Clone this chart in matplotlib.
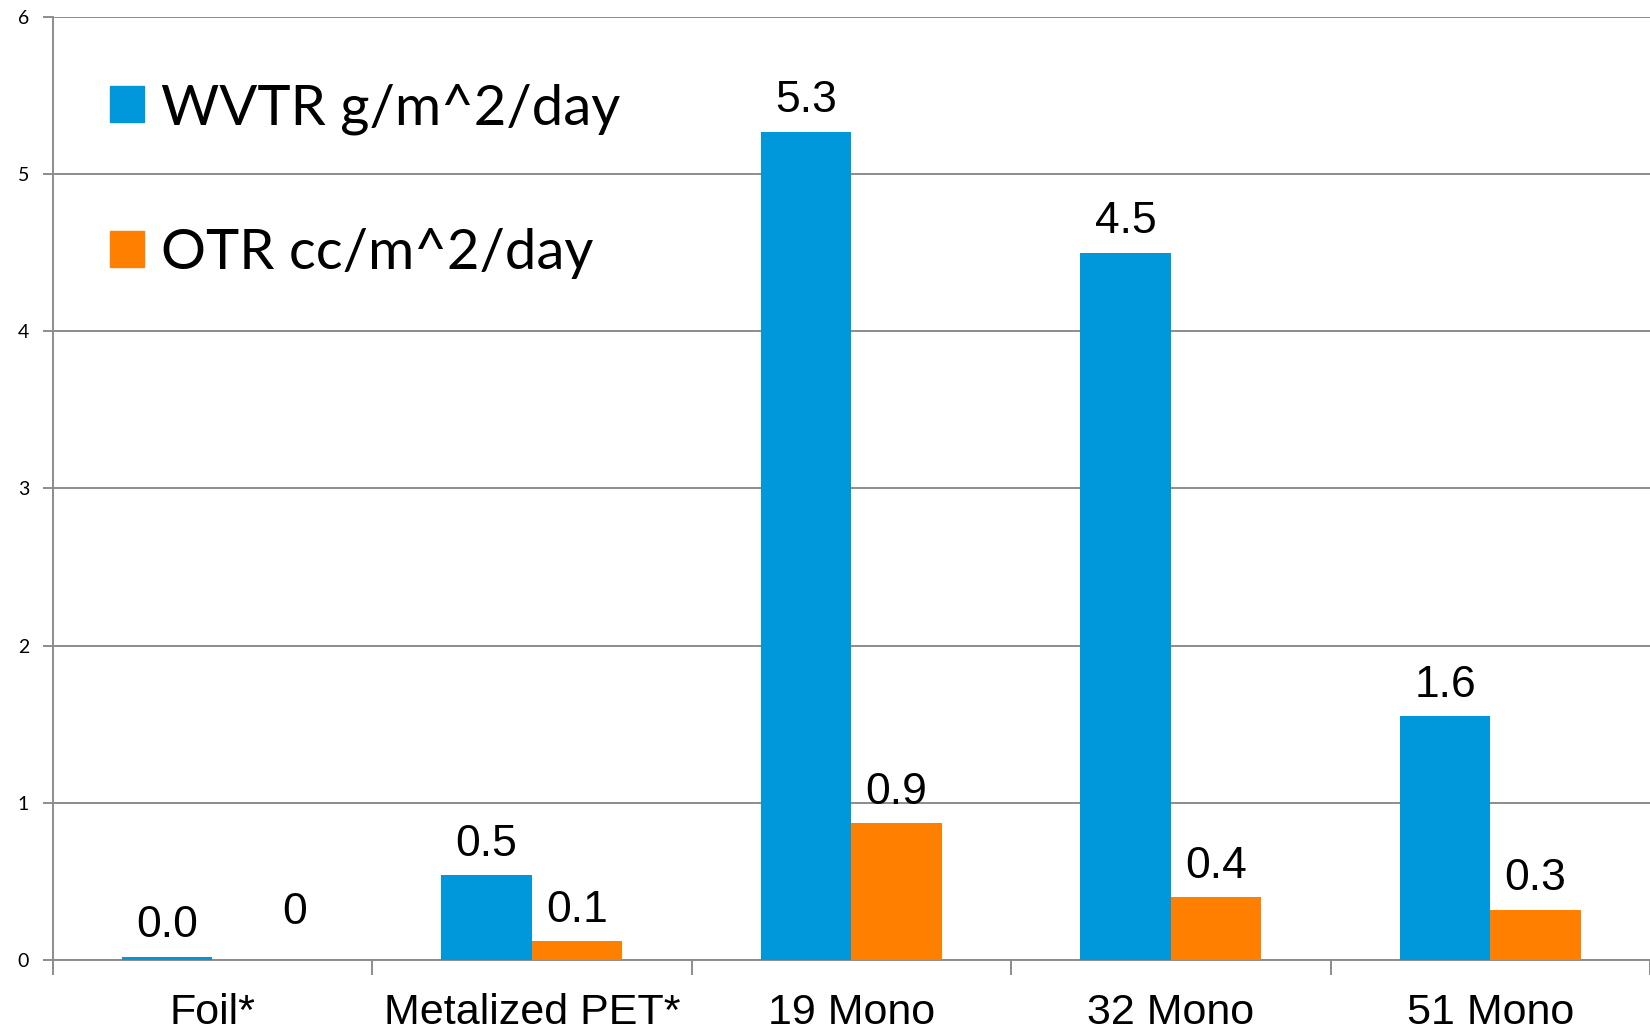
import numpy as np
import matplotlib.pyplot as plt
from matplotlib.patches import Patch

categories = ["Foil*", "Metalized PET*", "19 Mono", "32 Mono", "51 Mono"]
wvtr = [0.02, 0.54, 5.27, 4.50, 1.55]
otr = [0.0, 0.12, 0.87, 0.40, 0.32]
series_names = ["WVTR g/m^2/day", "OTR cc/m^2/day"]
y_ticks = [0, 1, 2, 3, 4, 5, 6]

blue = "#0098DA"
orange = "#FF7F00"
grid_col = "#8C8C8C"


def fmt(v):
    # excel shows an exact zero as "0"
    return "0" if v == 0 else f"{v:.1f}"


fig = plt.figure(figsize=(16.5, 10.31), dpi=100)
ax = fig.add_axes([0.0319, 0.0689, 0.9681, 0.9146])

x = np.arange(len(categories))
w = 0.283
b1 = ax.bar(x - w / 2, wvtr, w, color=blue, label=series_names[0], zorder=3)
b2 = ax.bar(x + w / 2, otr, w, color=orange, label=series_names[1], zorder=3)

for bars, vals in ((b1, wvtr), (b2, otr)):
    for rect, v in zip(bars, vals):
        # zero-height bar: excel nudges its label up and to the right
        off = (0, 14) if v != 0 else (27, 26)
        ax.annotate(fmt(v), (rect.get_x() + rect.get_width() / 2, rect.get_height()),
                    xytext=off, textcoords="offset points",
                    ha="center", va="baseline", fontsize=32,
                    family="Liberation Sans", color="black")

ax.set_xlim(-0.5, len(categories) - 0.5)
ax.set_ylim(0, 6)
ax.set_yticks(y_ticks)
ax.set_yticklabels([str(t) for t in y_ticks], family="Lato", fontsize=14)
ax.yaxis.grid(True, color=grid_col, linewidth=1.4, zorder=0)
ax.tick_params(axis="y", length=7, width=1.4, color=grid_col, pad=10)

ax.set_xticks(x)
ax.set_xticklabels(categories, family="Liberation Sans", fontsize=31)
ax.set_xticks(np.arange(-0.5, len(categories)), minor=True)
ax.tick_params(axis="x", which="major", length=0, pad=24)
ax.tick_params(axis="x", which="minor", length=11, width=1.4, color=grid_col)

for s in ("top", "right"):
    ax.spines[s].set_visible(False)
for s in ("left", "bottom"):
    ax.spines[s].set_color(grid_col)
    ax.spines[s].set_linewidth(1.4)

handles = [Patch(color=blue), Patch(color=orange)]
ax.legend(handles, series_names, loc="upper left", bbox_to_anchor=(0.036, 0.93),
          frameon=False, prop={"family": "Lato", "size": 40.5},
          handlelength=0.61, handleheight=0.61, handletextpad=0.3,
          labelspacing=1.66, borderpad=0, borderaxespad=0)

fig.savefig("out.png", dpi=100)
